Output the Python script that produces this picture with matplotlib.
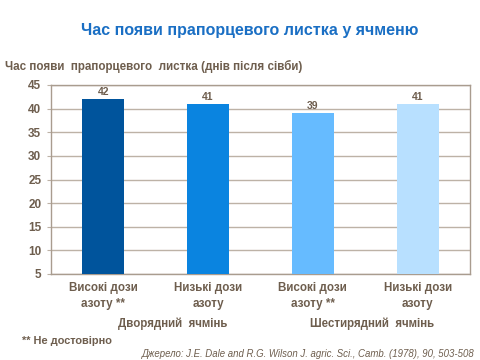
import matplotlib
matplotlib.use("Agg")
import matplotlib.pyplot as plt

categories = ["Високі дози\nазоту **", "Низькі дози\nазоту", "Високі дози\nазоту **", "Низькі дози\nазоту"]
values = [42, 41, 39, 41]
bar_colors = ["#00549c", "#0a84e0", "#66bbff", "#b8e0ff"]
groups = ["Дворядний  ячмінь", "Шестирядний  ячмінь"]
yticks = [5, 10, 15, 20, 25, 30, 35, 40, 45]

txt = "#6e5e4e"
grid = "#bdb2a6"
plt.rcParams['font.family'] = ['Liberation Sans', 'DejaVu Sans']

fig = plt.figure(figsize=(4.8, 3.6), dpi=100)
ax = fig.add_axes([51/480, 1-274/360, 419/480, 189/360])

x = list(range(len(values)))
base = yticks[0]
ax.bar(x, [v - base for v in values], bottom=base, width=0.4, color=bar_colors, zorder=3)
for xi, v in zip(x, values):
    ax.text(xi, v + 0.4, str(v), ha='center', va='bottom', fontsize=7.5, fontweight='bold', color=txt)

ax.set_xlim(-0.5, len(values) - 0.5)
ax.set_ylim(yticks[0], yticks[-1])
ax.set_yticks(yticks)
ax.set_yticklabels([str(t) for t in yticks], fontsize=8.5, fontweight='bold', color=txt)
ax.yaxis.grid(True, color=grid, linewidth=1, zorder=0)
ax.tick_params(axis='y', length=3, color=grid, pad=4)
ax.set_xticks(x)
ax.set_xticklabels(categories, fontsize=8.4, fontweight='bold', color=txt, linespacing=1.45)
ax.tick_params(axis='x', length=0, pad=6)
for s in ax.spines.values():
    s.set_color("#a99c8f")
    s.set_linewidth(1)

fig.text(250/480, 1-30/360, "Час появи прапорцевого листка у ячменю", ha='center', va='center',
         fontsize=11.5, fontweight='bold', color="#1a6fc4")
fig.text(5/480, 1-66/360, "Час появи  прапорцевого  листка (днів після сівби)", ha='left', va='center',
         fontsize=8.4, fontweight='bold', color=txt)
fig.text(173/480, 1-324/360, groups[0], ha='center', va='center', fontsize=8.3, fontweight='bold', color=txt)
fig.text(372/480, 1-324/360, groups[1], ha='center', va='center', fontsize=8.3, fontweight='bold', color=txt)
fig.text(22/480, 1-341/360, "** Не достовірно", ha='left', va='center', fontsize=7.9, fontweight='bold', color=txt)
fig.text(475/480, 1-354/360, "Джерело: J.E. Dale and R.G. Wilson J. agric. Sci., Camb. (1978), 90, 503-508",
         ha='right', va='center', fontsize=6.9, style='italic', color=txt)

fig.savefig("out.png", dpi=100)
